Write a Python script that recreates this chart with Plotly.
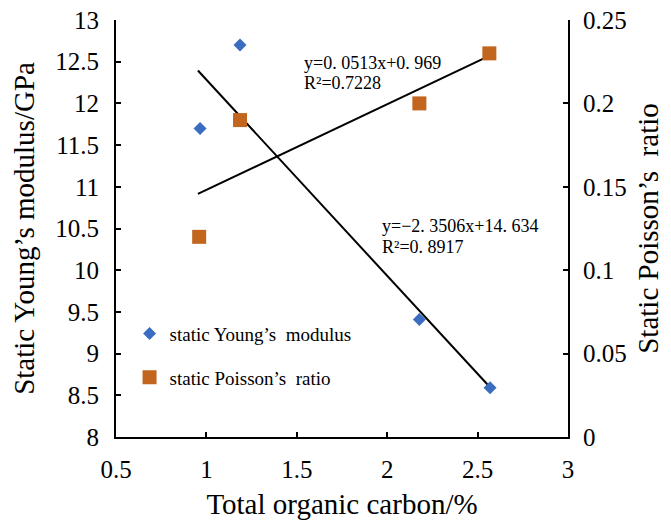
import plotly.graph_objects as go

# Data
toc_young = [0.965, 1.186, 2.178, 2.569]
young = [11.70, 12.70, 9.41, 8.59]
toc_pois = [0.96, 1.186, 2.178, 2.565]
poisson = [0.12, 0.19, 0.20, 0.23]

young_fit = (-2.3506, 14.634)
pois_fit = (0.0513, 0.0969)
fit_x_range = [0.953, 2.57]

eq_young = ["y=−2. 3506x+14. 634", "R²=0. 8917"]
eq_pois = ["y=0. 0513x+0. 969", "R²=0.7228"]

FONT = "Liberation Serif"

fig = go.Figure()
fig.add_trace(go.Scatter(
    x=fit_x_range, y=[young_fit[0] * v + young_fit[1] for v in fit_x_range],
    mode="lines", line=dict(color="black", width=2), showlegend=False, hoverinfo="skip"))
fig.add_trace(go.Scatter(
    x=fit_x_range, y=[pois_fit[0] * v + pois_fit[1] for v in fit_x_range],
    mode="lines", line=dict(color="black", width=2), showlegend=False, yaxis="y2", hoverinfo="skip"))
fig.add_trace(go.Scatter(
    x=toc_young, y=young, mode="markers", name="static Young’s  modulus", legendgroup="a",
    marker=dict(symbol="diamond", size=10, color="#3A6CC0")))
fig.add_trace(go.Scatter(
    x=toc_pois, y=poisson, mode="markers", name="static Poisson’s  ratio", yaxis="y2", legendgroup="b",
    marker=dict(symbol="square", size=14, color="#C2651E")))

axis_common = dict(showgrid=False, zeroline=False, showline=True, linecolor="black", linewidth=2,
                   ticks="inside", ticklen=5, tickwidth=2, tickcolor="black", automargin=False,
                   tickfont=dict(family=FONT, size=25, color="black"))

TITLE_SIZE = 29

fig.update_layout(
    width=671, height=522, margin=dict(l=116, r=103, t=20, b=85),
    paper_bgcolor="white", plot_bgcolor="white",
    font=dict(family=FONT, color="black"),
    xaxis=dict(range=[0.5, 3], dtick=0.5, tickformat="~g", ticklabelstandoff=9,
               title=dict(text="Total organic carbon/%", font=dict(family=FONT, size=TITLE_SIZE), standoff=12),
               **axis_common),
    yaxis=dict(range=[8, 13], dtick=0.5, tickformat="~g", ticklabelstandoff=10,
               title=dict(text="Static Young’s modulus/GPa", font=dict(family=FONT, size=TITLE_SIZE), standoff=12),
               **axis_common),
    yaxis2=dict(range=[0, 0.25], dtick=0.05, tickformat="~g", overlaying="y", side="right", ticklabelstandoff=8,
                title=dict(text="Static Poisson’s  ratio", font=dict(family=FONT, size=TITLE_SIZE), standoff=12),
                **axis_common),
    legend=dict(x=0.03, y=0.195, xanchor="left", yanchor="middle", bgcolor="rgba(0,0,0,0)",
                font=dict(family=FONT, size=19), tracegroupgap=16, itemsizing="trace"),
    showlegend=True,
)

ANN = 18
fig.add_annotation(x=1.53, y=12.49, xref="x", yref="y", text=eq_pois[0], showarrow=False,
                   xanchor="left", yanchor="middle", font=dict(family=FONT, size=ANN))
fig.add_annotation(x=1.53, y=12.24, xref="x", yref="y", text=eq_pois[1], showarrow=False,
                   xanchor="left", yanchor="middle", font=dict(family=FONT, size=ANN))
fig.add_annotation(x=1.96, y=10.53, xref="x", yref="y", text=eq_young[0], showarrow=False,
                   xanchor="left", yanchor="middle", font=dict(family=FONT, size=ANN))
fig.add_annotation(x=1.96, y=10.28, xref="x", yref="y", text=eq_young[1], showarrow=False,
                   xanchor="left", yanchor="middle", font=dict(family=FONT, size=ANN))

fig.write_html("out.html")
